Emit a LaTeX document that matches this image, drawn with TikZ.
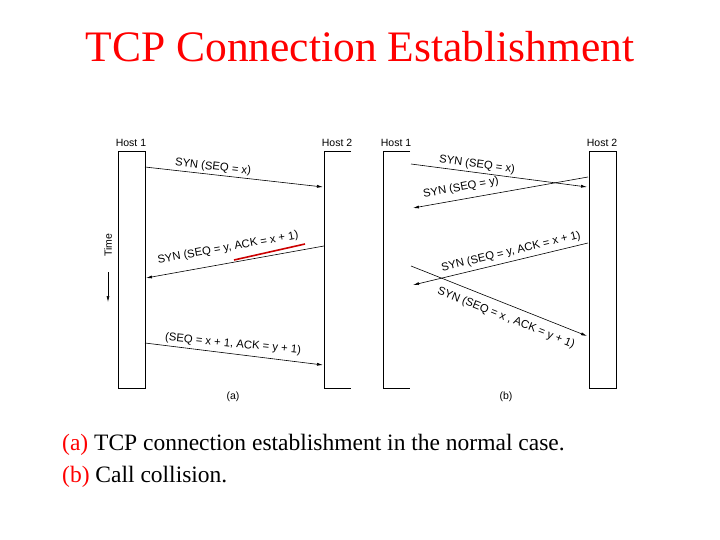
\documentclass[tikz,border=0pt]{standalone}
\usepackage{fontspec}
\setmainfont{Liberation Serif}
\newfontfamily\lab{Liberation Sans}
\usetikzlibrary{arrows.meta}
\begin{document}
\begin{tikzpicture}[x=1pt,y=-1pt,
  bar/.style={line width=0.9pt},
  msg/.style={line width=0.6pt,-{Latex[length=6pt,width=3pt]}},
  lbl/.style={font=\lab\fontsize{11.3}{13}\selectfont,inner sep=1pt},
  hst/.style={font=\lab\fontsize{10.5}{12}\selectfont,inner sep=0pt}]
\useasboundingbox[fill=white] (0,0) rectangle (720,540);
\node[text=red,font=\fontsize{43.5}{48}\selectfont] (title) at (360,47) {TCP Connection Establishment};
% panel a
\draw[bar] (118,151) rectangle (145,388);
\draw[bar] (351,151) -- (324,151) -- (324,388) -- (351,388);
\node[hst] (h1a) at (131,143) {Host 1};
\node[hst] (h2a) at (337,143) {Host 2};
\coordinate (a1s) at (145,167); \coordinate (a1e) at (323,187);
\coordinate (a2s) at (324,246); \coordinate (a2e) at (146,278);
\coordinate (a3s) at (145,343); \coordinate (a3e) at (323,365);
\draw[msg] (a1s) -- (a1e);
\draw[msg] (a2s) -- (a2e);
\draw[msg] (a3s) -- (a3e);
\draw[red!80!black,line width=1.6pt] (234,260) -- (305,244);
\node[lbl,rotate=-6.4] (l1) at (213,167) {SYN (SEQ = x)};
\node[lbl,rotate=10.2] (l2) at (228,248) {SYN (SEQ = y, ACK = x + 1)};
\node[lbl,rotate=-5.7] (l3) at (233,344) {(SEQ = x + 1, ACK = y + 1)};
\node[hst,rotate=90] (time) at (108,245) {Time};
\coordinate (t1) at (108,272); \coordinate (t2) at (108,302);
\draw[line width=0.6pt,-{Latex[length=6pt,width=3pt]}] (t1) -- (t2);
\node[hst] (ca) at (233,397) {(a)};
% panel b
\draw[bar] (410,151) -- (383,151) -- (383,388) -- (410,388);
\draw[bar] (589,151) rectangle (616,388);
\node[hst] (h1b) at (396,143) {Host 1};
\node[hst] (h2b) at (602,143) {Host 2};
\coordinate (b1s) at (411,164); \coordinate (b1e) at (587,187);
\coordinate (b2s) at (588,177); \coordinate (b2e) at (413,208);
\coordinate (b3s) at (588,243); \coordinate (b3e) at (413,285);
\coordinate (b4s) at (411,266); \coordinate (b4e) at (587,336);
\draw[msg] (b1s) -- (b1e);
\draw[msg] (b2s) -- (b2e);
\draw[msg] (b3s) -- (b3e);
\draw[msg] (b4s) -- (b4e);
\node[lbl,rotate=-7.4] (m1) at (477,165) {SYN (SEQ = x)};
\node[lbl,rotate=10.2] (m2) at (461,188) {SYN (SEQ = y)};
\node[lbl,rotate=13.5] (m3) at (511,252) {SYN (SEQ = y, ACK = x + 1)};
\node[lbl,rotate=-21.7] (m4) at (506,318) {SYN (SEQ = x , ACK = y + 1)};
\node[hst] (cb) at (506,397) {(b)};
% caption
\node[anchor=west,font=\fontsize{23.5}{28}\selectfont,inner sep=0pt] (c1) at (62,445) {\textcolor{red}{(a)} TCP connection establishment in the normal case.};
\node[anchor=west,font=\fontsize{23.5}{28}\selectfont,inner sep=0pt] (c2) at (62,477) {\textcolor{red}{(b)} Call collision.};
\end{tikzpicture}
\end{document}
